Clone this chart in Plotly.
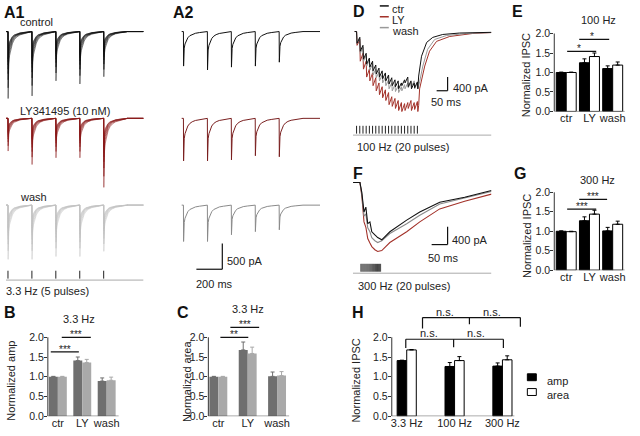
import plotly.graph_objects as go

W, H = 640, 436
FONT = 'Liberation Sans, Arial, sans-serif'
TXT = '#222222'

# ---------------- A1 / A2 : 3.3 Hz trains (time in ms, current in pA) ----------------
a_pulse_ms = [0, 300, 600, 900, 1200]
a_decay_ms = [0, 2, 5, 10, 20, 35, 55, 80, 110, 150, 200, 260, 299]
a_decay_frac = [0, 1.0, 0.62, 0.48, 0.36, 0.26, 0.18, 0.12, 0.08, 0.05, 0.03, 0.015, 0.0]
a1_sweep_scale = [1.0, 0.84, 0.72, 0.63, 0.56, 0.5, 0.45, 0.41]
a1_ctr_peak = [1290, 1240, 950, 1010, 870]
a1_ly_peak = [630, 890, 760, 760, 1330]
a1_wash_peak = [1045, 1045, 990, 990, 890]
a2_ctr_peak = [665, 740, 685, 665, 590]
a2_ly_peak = [820, 820, 800, 720, 740]
a2_wash_peak = [700, 700, 570, 510, 475]

# ---------------- D : 100 Hz, 20 pulses ----------------
d_pulse_ms = [0, 10, 20, 30, 40, 50, 60, 70, 80, 90, 100, 110, 120, 130, 140, 150, 160, 170, 180, 190]
d_ctr_peak = [340, 570, 800, 940, 1030, 1140, 1230, 1320, 1370, 1430, 1520, 1570, 1600, 1660, 1570, 1490, 1600, 1660, 1630, 1660]
d_ctr_relax = [0, 170, 400, 630, 770, 860, 970, 1060, 1140, 1200, 1260, 1340, 1400, 1430, 1490, 1400, 1320, 1430, 1490, 1460]
d_ly_peak = [400, 860, 1090, 1320, 1430, 1570, 1720, 1830, 1920, 2000, 2120, 2170, 2230, 2290, 2320, 2290, 2230, 2290, 2260, 2320]
d_ly_relax = [0, 230, 630, 860, 1090, 1200, 1340, 1490, 1600, 1690, 1770, 1890, 1940, 2000, 2060, 2090, 2060, 2000, 2060, 2030]
d_wash_peak = [340, 630, 860, 1000, 1120, 1260, 1340, 1430, 1490, 1570, 1660, 1720, 1740, 1770, 1720, 1660, 1630, 1600, 1660, 1660]
d_wash_relax = [0, 170, 460, 690, 830, 940, 1090, 1170, 1260, 1320, 1400, 1490, 1540, 1570, 1600, 1540, 1490, 1460, 1430, 1490]
d_ctr_rec_ms = [194, 203, 219, 238, 269, 322, 421]
d_ctr_rec = [1290, 715, 315, 170, 85, 43, 23]
d_wash_rec_ms = [197, 207, 222, 244, 281, 344, 421]
d_wash_rec = [1460, 1000, 515, 230, 115, 57, 29]
d_ly_rec_ms = [194, 197, 213, 228, 250, 291, 362, 421]
d_ly_rec = [2145, 1660, 1000, 570, 285, 143, 57, 29]

# ---------------- F : 300 Hz, 20 pulses ----------------
f_pulse_ms = [0, 3.3, 6.7, 10, 13.3, 16.7, 20, 23.3, 26.7, 30, 33.3, 36.7, 40, 43.3, 46.7, 50, 53.3, 56.7, 60, 63.3]
f_ms = [-25, -3, 3, 10, 16, 22, 29, 35, 45, 54, 67, 77, 93, 147, 189, 253, 333, 419]
f_ctr = [0, 0, -220, -660, -550, -920, -880, -1100, -1170, -1230, -1280, -1210, -1100, -840, -660, -440, -330, -180]
f_wash = [0, 0, -260, -750, -700, -1010, -1100, -1230, -1300, -1340, -1300, -1230, -1140, -920, -730, -480, -350, -200]
f_ly = [0, 0, -300, -880, -1000, -1250, -1350, -1430, -1500, -1540, -1520, -1450, -1340, -1100, -880, -590, -420, -260]

# ---------------- bar panels ----------------
cond = ['ctr', 'LY', 'wash']
b_dark = [1.0, 1.41, 0.89]
b_dark_err = [0.01, 0.09, 0.08]
b_light = [1.0, 1.36, 0.91]
b_light_err = [0.01, 0.08, 0.08]
c_dark = [1.0, 1.68, 1.01]
c_dark_err = [0.01, 0.20, 0.11]
c_light = [1.0, 1.59, 1.03]
c_light_err = [0.01, 0.16, 0.10]
e_amp = [1.0, 1.25, 1.10]
e_amp_err = [0.01, 0.10, 0.07]
e_area = [1.0, 1.41, 1.19]
e_area_err = [0.01, 0.09, 0.08]
g_amp = [1.0, 1.27, 1.01]
g_amp_err = [0.01, 0.10, 0.09]
g_area = [0.99, 1.44, 1.18]
g_area_err = [0.01, 0.10, 0.08]
freqs = ['3.3 Hz', '100 Hz', '300 Hz']
h_amp = [1.41, 1.26, 1.27]
h_amp_err = [0.01, 0.10, 0.08]
h_area = [1.68, 1.41, 1.43]
h_area_err = [0.01, 0.10, 0.10]

fig = go.Figure()
n_axes = [0]


def add_axes(x0, x1, y0, y1, xr, yr):
    # x0..x1, y0..y1 in pixels of the 640x436 canvas
    n_axes[0] += 1
    s = '' if n_axes[0] == 1 else str(n_axes[0])
    fig.update_layout({
        'xaxis' + s: dict(domain=[x0 / W, x1 / W], range=xr, anchor='y' + s, visible=False, fixedrange=True),
        'yaxis' + s: dict(domain=[1 - y1 / H, 1 - y0 / H], range=yr, anchor='x' + s, visible=False, fixedrange=True),
    })
    return 'x' + s, 'y' + s


def line(xa, ya, xs, ys, color, width=1.0):
    fig.add_trace(go.Scatter(x=xs, y=ys, mode='lines', line=dict(color=color, width=width),
                             xaxis=xa, yaxis=ya, hoverinfo='skip'))


def train(peaks, scale, t_end):
    xs, ys = [-25], [0]
    for t0, pk in zip(a_pulse_ms, peaks):
        for dt, f in zip(a_decay_ms, a_decay_frac):
            xs.append(t0 + dt)
            ys.append(-pk * scale * f)
    xs.append(t_end)
    ys.append(0)
    return xs, ys


def stim(xa, ya, pulses, x_lo, x_hi, color='#222', line_col='#aaaaaa'):
    line(xa, ya, [x_lo, x_hi], [0, 0], line_col, 1)
    xs, ys = [], []
    for t in pulses:
        xs += [t, t, None]
        ys += [0.15, 0.95, None]
    line(xa, ya, xs, ys, color, 1)


def text(s, x, y, size=11, xanchor='left', bold=False, angle=0, color=TXT):
    # y is the visual centre of the text in picture pixels (annotations sit ~3px high)
    y = y + 3 if angle == 0 else y
    fig.add_annotation(text='<b>%s</b>' % s if bold else s, x=x / W, y=1 - y / H, xref='paper', yref='paper',
                       xanchor=xanchor, yanchor='middle', showarrow=False, textangle=angle, borderpad=0,
                       font=dict(family=FONT, size=size, color=color))


def pline(x0, y0, x1, y1, color='#111', width=1.2):
    fig.add_shape(type='line', xref='paper', yref='paper', x0=x0 / W, x1=x1 / W, y0=1 - y0 / H, y1=1 - y1 / H,
                  line=dict(color=color, width=width))


# ---- A1 (sweeps) and A2 (averages) ----
rows = [(32, a1_ctr_peak, a2_ctr_peak, '#111111', '#111111'),
        (120, a1_ly_peak, a2_ly_peak, '#8b1a1a', '#7a2020'),
        (208, a1_wash_peak, a2_wash_peak, '#c2c2c2', '#8a8a8a')]
for base, p1, p2, c1, c2 in rows:
    xa, ya = add_axes(5, 143, base - 6, base + 76, [-25, 1700], [-1444, 114])
    for k in a1_sweep_scale:
        xs, ys = train(p1, k, 1700)
        line(xa, ya, xs, ys, c1, 0.5)
    xa, ya = add_axes(181, 320, base - 6, base + 76, [-25, 1712], [-1444, 114])
    xs, ys = train(p2, 1.0, 1712)
    line(xa, ya, xs, ys, c2, 1.0)

xa, ya = add_axes(5, 143, 273, 286, [-25, 1700], [-0.2, 1.1])
stim(xa, ya, a_pulse_ms, -25, 1700)

# ---- D ----
def d_trace(peaks, relax, rec_ms, rec):
    xs, ys = [-6], [0]
    for t0, r, p in zip(d_pulse_ms, relax, peaks):
        xs += [t0, t0 + 1.5]
        ys += [-r, -p]
    xs += rec_ms
    ys += [-v for v in rec]
    return xs, ys


xa, ya = add_axes(353, 492, 28, 118, [-11.5, 421.5], [-2460, 114])
for pk, rl, rm, rv, col in [(d_ly_peak, d_ly_relax, d_ly_rec_ms, d_ly_rec, '#a3322a'),
                            (d_wash_peak, d_wash_relax, d_wash_rec_ms, d_wash_rec, '#999999'),
                            (d_ctr_peak, d_ctr_relax, d_ctr_rec_ms, d_ctr_rec, '#111111')]:
    xs, ys = d_trace(pk, rl, rm, rv)
    line(xa, ya, xs, ys, col, 1.0)
xa, ya = add_axes(353, 492, 127, 138, [-11.5, 421.5], [-0.1, 1])
stim(xa, ya, d_pulse_ms, -11.5, 421.5)

# ---- F ----
xa, ya = add_axes(353, 492, 181, 262, [-25.6, 419], [-1694, 88])
for ys, col in [(f_ly, '#a3322a'), (f_wash, '#8a8a8a'), (f_ctr, '#111111')]:
    line(xa, ya, f_ms, ys, col, 1.1)
xa, ya = add_axes(353, 492, 266, 278, [-25.6, 419], [-0.1, 1.1])
stim(xa, ya, f_pulse_ms, -25.6, 419, color='#444444')


# ---- bar panels ----
def bar_panel(px0, px1, py0, py1, xr, yr, cats, s1, e1, s2, e2, c1, c2, edge, ec1, ec2, w, xline=None):
    xa, ya = add_axes(px0, px1, py0, py1, xr, yr)
    s = xa[1:]
    fig.update_layout({
        'xaxis' + s: dict(visible=True, type='category', categoryorder='array', categoryarray=cats,
                          showline=False, ticks='', showgrid=False, zeroline=False, ticklabelstandoff=-1,
                          tickfont=dict(family=FONT, size=11, color=TXT)),
        'yaxis' + s: dict(visible=True, tickvals=[0, 0.5, 1.0, 1.5, 2.0], tickformat='.1f', ticks='outside',
                          ticklen=3, tickcolor='#333', showline=False, showgrid=False, zeroline=False,
                          ticklabelstandoff=-2, tickfont=dict(family=FONT, size=10.5, color=TXT)),
    })
    for vals, err, col, ecol, off in [(s1, e1, c1, ec1, -w), (s2, e2, c2, ec2, 0)]:
        fig.add_trace(go.Bar(x=cats, y=vals, width=w, offset=off, xaxis=xa, yaxis=ya,
                             marker=dict(color=col, line=dict(color=edge, width=1 if edge else 0)),
                             error_y=dict(type='data', array=err, arrayminus=[0] * len(err), symmetric=False,
                                          color=ecol, thickness=1, width=2),
                             hoverinfo='skip'))
    fig.add_shape(type='line', xref=xa + ' domain', x0=0, x1=0, yref=ya, y0=0, y1=2.0,
                  line=dict(color='#333', width=1))
    if xline is None:
        fig.add_shape(type='line', xref=xa + ' domain', x0=0, x1=1, yref=ya, y0=0, y1=0,
                      line=dict(color='#555', width=1))
    else:
        fig.add_shape(type='line', xref=xa, x0=xline[0], x1=xline[1], yref=ya, y0=0, y1=0,
                      line=dict(color='#555', width=1))
    return xa, ya


def sig(xa, ya, x0, x1, y, stars, xs=None):
    fig.add_shape(type='line', xref=xa, yref=ya, x0=x0, x1=x1, y0=y, y1=y, line=dict(color='#111', width=1.2))
    fig.add_annotation(text=stars, x=(x0 + x1) / 2 if xs is None else xs, y=y, xref=xa, yref=ya,
                       yanchor='bottom', showarrow=False, yshift=-4, borderpad=0,
                       font=dict(family=FONT, size=10, color=TXT))


GD, GL = '#6f6f6f', '#a9a9a9'
xa, ya = bar_panel(47, 118, 318, 422, [-0.41, 2.49], [0, 2.6], cond, b_dark, b_dark_err, b_light, b_light_err,
                   GD, GL, None, GD, GL, 0.367)
sig(xa, ya, -0.29, 0.86, 1.63, '***')
sig(xa, ya, 0.16, 1.35, 2.0, '***')

xa, ya = bar_panel(208, 289, 318, 422, [-0.34, 2.41], [0, 2.6], cond, c_dark, c_dark_err, c_light, c_light_err,
                   GD, GL, None, GD, GL, 0.305)
sig(xa, ya, 0.07, 1.02, 2.0, '**')
sig(xa, ya, 0.41, 1.39, 2.25, '***')

xa, ya = bar_panel(555, 625.6, 26.1, 113, [-0.515, 2.515], [0, 2.2], cond, e_amp, e_amp_err, e_area, e_area_err,
                   '#000000', '#ffffff', '#000000', '#000000', '#000000', 0.43)
sig(xa, ya, 0.04, 1.29, 1.54, '*', 0.56)
sig(xa, ya, 0.56, 1.85, 1.85, '*', 1.12)

xa, ya = bar_panel(555, 625.6, 187.1, 274, [-0.515, 2.515], [0, 2.2], cond, g_amp, g_amp_err, g_area, g_area_err,
                   '#000000', '#ffffff', '#000000', '#000000', '#000000', 0.43)
sig(xa, ya, 0.04, 1.29, 1.57, '***')
sig(xa, ya, 0.56, 1.76, 1.82, '***')

xa, ya = bar_panel(392, 527, 310, 422, [-0.3125, 2.5], [0, 2.8], freqs, h_amp, h_amp_err, h_area, h_area_err,
                   '#000000', '#ffffff', '#000000', '#000000', '#000000', 0.2, xline=(-0.3125, 2.25))
for (x0, x1, y, drops) in [(-0.02, 2.02, 1.95, [(-0.02, 1.73), (0.98, 1.75), (2.02, 1.73)]),
                           (0.33, 2.375, 2.5, [(0.33, 2.22), (1.31, 2.33), (2.375, 2.27)])]:
    fig.add_shape(type='line', xref=xa, yref=ya, x0=x0, x1=x1, y0=y, y1=y, line=dict(color='#111', width=1.2))
    for xd, yd in drops:
        fig.add_shape(type='line', xref=xa, yref=ya, x0=xd, x1=xd, y0=y, y1=yd, line=dict(color='#111', width=1.2))
for xn, yn in [(0.46, 2.1), (1.44, 2.1), (0.81, 2.65), (1.79, 2.65)]:
    fig.add_annotation(text='n.s.', x=xn, y=yn, xref=xa, yref=ya, showarrow=False,
                       font=dict(family=FONT, size=11, color=TXT))

# ---- legends, scale bars, labels ----
fig.add_shape(type='rect', xref='paper', yref='paper', x0=528 / W, x1=537 / W, y0=1 - 386 / H, y1=1 - 379 / H,
              fillcolor='#000', line=dict(color='#000', width=1))
fig.add_shape(type='rect', xref='paper', yref='paper', x0=528 / W, x1=537 / W, y0=1 - 401 / H, y1=1 - 394 / H,
              fillcolor='#fff', line=dict(color='#000', width=1))
text('amp', 547, 383)
text('area', 547, 398)

for yy, col, lab in [(6, '#111111', 'ctr'), (17, '#a3322a', 'LY'), (28, '#999999', 'wash')]:
    pline(380, yy, 389, yy, col, 1.5)
    text(lab, 391, yy)

pline(222, 247, 222, 273)
pline(196, 273, 222, 273)
text('500 pA', 226, 262)
text('200 ms', 195, 285)
pline(448, 78, 448, 92)
pline(437, 92, 448, 92)
text('400 pA', 452, 86)
text('50 ms', 430, 100)
pline(448, 230, 448, 248)
pline(432, 248, 448, 248)
text('400 pA', 451, 240)
text('50 ms', 427, 259)

text('control', 18, 19)
text('LY341495 (10 nM)', 18, 110)
text('wash', 18, 197)
text('3.3 Hz (5 pulses)', 4, 292)
text('100 Hz (20 pulses)', 356, 146)
text('300 Hz (20 pulses)', 357, 287)

text('3.3 Hz', 78, 320, xanchor='center')
text('3.3 Hz', 248, 310, xanchor='center')
text('100 Hz', 599, 17, xanchor='center')
text('300 Hz', 598, 180, xanchor='center')

text('Normalized amp', 10, 386, xanchor='center', angle=-90)
text('Normalized area', 186, 386, xanchor='center', angle=-90)
text('Normalized IPSC', 527, 76, xanchor='center', angle=-90)
text('Normalized IPSC', 527, 239, xanchor='center', angle=-90)
text('Normalized IPSC', 356, 386, xanchor='center', angle=-90)

for lab, x, y in [('A1', 2, 10), ('A2', 172, 10), ('B', 2, 314), ('C', 176, 314), ('D', 352, 9),
                  ('E', 512, 9), ('F', 352, 173), ('G', 514, 173), ('H', 351, 314)]:
    text(lab, x, y, size=16, bold=True, color='#111')

fig.update_layout(width=W, height=H, margin=dict(l=0, r=0, t=0, b=0), showlegend=False,
                  paper_bgcolor='white', plot_bgcolor='white', barmode='overlay',
                  font=dict(family=FONT, size=11, color=TXT))

# the page body has an 8px default margin; drop it so the 640x436 figure fills the window
fig.write_html("out.html", config={'displayModeBar': False},
               post_script="document.body.style.margin='0px';")
